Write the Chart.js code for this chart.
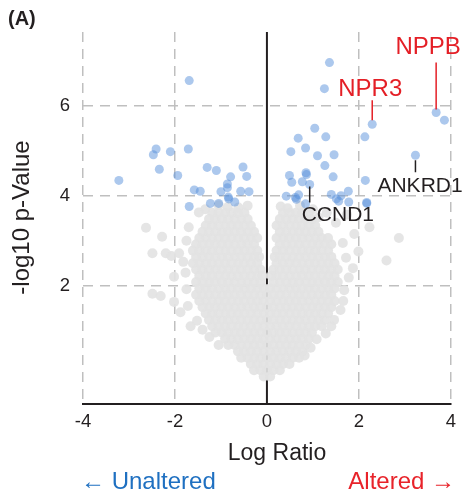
<!DOCTYPE html>
<html>
<head>
<meta charset="utf-8">
<script src="https://cdn.jsdelivr.net/npm/chart.js@4.4.1/dist/chart.umd.min.js"></script>
<style>
  html, body { margin: 0; padding: 0; background: #fff; }
  #wrap { width: 463px; height: 498px; }
</style>
</head>
<body>
<div id="wrap"><canvas id="chart" width="463" height="498"></canvas></div>
<script>
// significant genes (blue), [log ratio, -log10 p]
var sigLeft = [
  [-1.69, 6.56], [-2.41, 5.04], [-2.47, 4.91], [-2.10, 4.98], [-1.71, 5.04], [-2.34, 4.59],
  [-1.94, 4.45], [-3.22, 4.34], [-1.30, 4.63], [-1.10, 4.56], [-0.52, 4.64], [-0.44, 4.43],
  [-0.79, 4.42], [-0.86, 4.26], [-0.86, 4.18], [-1.58, 4.13], [-1.45, 4.10], [-1.00, 4.09],
  [-0.57, 4.10], [-0.39, 4.09], [-0.84, 3.97], [-0.83, 3.93], [-1.23, 3.83], [-1.05, 3.83],
  [-0.70, 3.86], [-1.69, 3.76]
];
var sigRight = [
  [1.36, 6.96], [1.25, 6.38], [3.68, 5.85], [3.86, 5.68], [2.29, 5.59], [2.13, 5.31],
  [1.04, 5.50], [0.68, 5.28], [1.28, 5.31], [0.84, 5.06], [0.52, 4.98], [1.10, 4.89],
  [1.46, 4.91], [1.26, 4.67], [3.23, 4.90], [1.44, 4.42], [0.49, 4.45], [0.85, 4.51],
  [0.86, 4.47], [0.54, 4.30], [0.77, 4.31], [0.93, 4.25], [2.14, 4.34], [0.42, 3.99],
  [0.62, 3.96], [0.69, 4.02], [0.64, 3.92], [0.84, 3.82], [1.40, 4.03], [1.61, 4.00],
  [1.77, 4.10], [1.51, 3.93], [1.56, 3.88], [1.78, 3.86], [2.17, 3.83], [2.17, 3.85]
];

// non-significant cloud, read row by row (y level -> x positions)
var grayRowY = [-0.02, 0.12, 0.26, 0.40, 0.54, 0.68, 0.82, 0.96, 1.10, 1.24, 1.38, 1.52, 1.66,
  1.80, 1.94, 2.08, 2.22, 2.36, 2.50, 2.64, 2.78, 2.92, 3.06, 3.20, 3.34, 3.48, 3.62];
var grayRowX = [
  [-0.07, 0.07],
  [-0.28, -0.14, 0, 0.14, 0.28],
  [-0.35, -0.21, -0.07, 0.07, 0.21, 0.35, 0.49],
  [-0.56, -0.42, -0.28, -0.14, 0, 0.14, 0.28, 0.42, 0.56, 0.70],
  [-0.63, -0.49, -0.35, -0.21, -0.07, 0.07, 0.21, 0.35, 0.49, 0.63, 0.77],
  [-0.84, -0.70, -0.56, -0.42, -0.28, -0.14, 0, 0.14, 0.28, 0.42, 0.56, 0.70, 0.84],
  [-0.91, -0.77, -0.63, -0.49, -0.35, -0.21, -0.07, 0.07, 0.21, 0.35, 0.49, 0.63, 0.77, 0.91],
  [-1.12, -0.98, -0.84, -0.70, -0.56, -0.42, -0.28, -0.14, 0, 0.14, 0.28, 0.42, 0.56, 0.70, 0.84, 0.98],
  [-1.19, -1.05, -0.91, -0.77, -0.63, -0.49, -0.35, -0.21, -0.07, 0.07, 0.21, 0.35, 0.49, 0.63, 0.77, 0.91, 1.05, 1.19],
  [-1.26, -1.12, -0.98, -0.84, -0.70, -0.56, -0.42, -0.28, -0.14, 0, 0.14, 0.28, 0.42, 0.56, 0.70, 0.84, 0.98, 1.12, 1.26],
  [-1.33, -1.19, -1.05, -0.91, -0.77, -0.63, -0.49, -0.35, -0.21, -0.07, 0.07, 0.21, 0.35, 0.49, 0.63, 0.77, 0.91, 1.05, 1.19, 1.33],
  [-1.40, -1.26, -1.12, -0.98, -0.84, -0.70, -0.56, -0.42, -0.28, -0.14, 0, 0.14, 0.28, 0.42, 0.56, 0.70, 0.84, 0.98, 1.12, 1.26, 1.40],
  [-1.47, -1.33, -1.19, -1.05, -0.91, -0.77, -0.63, -0.49, -0.35, -0.21, -0.07, 0.07, 0.21, 0.35, 0.49, 0.63, 0.77, 0.91, 1.05, 1.19, 1.33, 1.47],
  [-1.54, -1.40, -1.26, -1.12, -0.98, -0.84, -0.70, -0.56, -0.42, -0.28, -0.14, 0, 0.14, 0.28, 0.42, 0.56, 0.70, 0.84, 0.98, 1.12, 1.26, 1.40],
  [-1.47, -1.33, -1.19, -1.05, -0.91, -0.77, -0.63, -0.49, -0.35, -0.21, -0.07, 0.07, 0.21, 0.35, 0.49, 0.63, 0.77, 0.91, 1.05, 1.19, 1.33, 1.47],
  [-1.54, -1.40, -1.26, -1.12, -0.98, -0.84, -0.70, -0.56, -0.42, -0.28, -0.14, 0.14, 0.28, 0.42, 0.56, 0.70, 0.84, 0.98, 1.12, 1.26, 1.40, 1.54],
  [-1.47, -1.33, -1.19, -1.05, -0.91, -0.77, -0.63, -0.49, -0.35, -0.21, -0.10, 0.10, 0.21, 0.35, 0.49, 0.63, 0.77, 0.91, 1.05, 1.19, 1.33, 1.47],
  [-1.54, -1.40, -1.26, -1.12, -0.98, -0.84, -0.70, -0.56, -0.42, -0.28, -0.14, 0.14, 0.28, 0.42, 0.56, 0.70, 0.84, 0.98, 1.12, 1.26, 1.40, 1.54],
  [-1.61, -1.47, -1.33, -1.19, -1.05, -0.91, -0.77, -0.63, -0.49, -0.35, -0.21, 0.21, 0.35, 0.49, 0.63, 0.77, 0.91, 1.05, 1.19, 1.33, 1.47],
  [-1.54, -1.40, -1.26, -1.12, -0.98, -0.84, -0.70, -0.56, -0.42, -0.28, -0.17, 0.17, 0.28, 0.42, 0.56, 0.70, 0.84, 0.98, 1.12, 1.26, 1.40],
  [-1.61, -1.47, -1.33, -1.19, -1.05, -0.91, -0.77, -0.63, -0.49, -0.35, -0.21, 0.21, 0.35, 0.49, 0.63, 0.77, 0.91, 1.05, 1.19, 1.33],
  [-1.54, -1.40, -1.26, -1.12, -0.98, -0.84, -0.70, -0.56, -0.42, -0.28, 0.28, 0.42, 0.56, 0.70, 0.84, 0.98, 1.12, 1.26, 1.40],
  [-1.47, -1.33, -1.19, -1.05, -0.91, -0.77, -0.63, -0.49, -0.35, -0.21, 0.21, 0.35, 0.49, 0.63, 0.77, 0.91, 1.05, 1.19, 1.33],
  [-1.40, -1.26, -1.12, -0.98, -0.84, -0.70, -0.56, -0.42, -0.28, 0.28, 0.42, 0.56, 0.70, 0.84, 0.98, 1.12],
  [-1.33, -1.19, -1.05, -0.91, -0.77, -0.63, -0.49, -0.35, 0.21, 0.35, 0.49, 0.63, 0.77, 0.91, 1.05],
  [-1.26, -1.12, -0.98, -0.84, -0.70, -0.56, -0.42, 0.28, 0.42, 0.56, 0.70, 0.84, 0.98],
  [-1.19, -1.05, -0.91, -0.77, -0.63, -0.49, 0.35, 0.49, 0.63, 0.77, 0.91]
];
// scattered grey points outside the dense cloud
var grayOutliers = [
  [-2.63, 3.29], [-2.28, 3.09], [-2.49, 2.72], [-2.20, 2.72], [-2.08, 2.66], [-1.91, 2.72],
  [-2.49, 1.82], [-2.31, 1.77], [-2.02, 1.64], [-1.88, 1.41], [-1.66, 1.10], [-1.77, 2.29],
  [-2.02, 2.20], [-1.82, 2.53], [-1.75, 3.00], [-1.70, 3.30], [-1.48, 3.63], [-1.34, 3.70],
  [-1.05, 3.79], [-0.85, 3.75], [-0.62, 3.74], [-0.42, 3.78], [-1.75, 1.92], [-1.72, 1.55],
  [-1.52, 1.22], [-1.40, 1.02], [-1.25, 0.86], [-1.05, 0.68],
  [2.87, 3.06], [2.60, 2.56], [2.23, 3.30], [1.99, 2.76], [1.87, 2.39], [1.78, 2.18],
  [1.60, 1.46], [1.46, 1.24], [1.28, 0.94], [1.08, 0.81], [1.74, 3.58], [1.50, 3.40],
  [1.30, 3.62], [1.90, 3.15], [1.65, 2.95], [1.72, 2.62], [1.68, 1.90], [1.66, 1.66],
  [1.40, 1.10], [0.30, 3.76], [0.45, 3.72], [0.72, 3.78], [1.00, 3.70], [1.12, 3.52],
  [0.95, 0.62], [0.82, 0.45]
];

// labelled genes
var geneNames = ["NPPB", "NPR3", "ANKRD1", "CCND1"];
var geneX = [3.68, 2.29, 3.23, 0.93];
var geneY = [5.85, 5.59, 4.90, 4.25];

var xTicks = [-4, -2, 0, 2, 4];
var yTicks = [2, 4, 6];

var FONT = "'Liberation Sans', Arial, sans-serif";
var INK = "#231f20";
var RED = "#e41f26";

// label styling, same order as geneNames
var geneStyle = [
  {color: RED, size: 24, align: "center", dx: -8, dy: -59, l1: -3, l2: -50},
  {color: RED, size: 24, align: "center", dx: -2, dy: -28, l1: -4, l2: -24},
  {color: INK, size: 21, align: "left", dx: -38, dy: 37, l1: 5, l2: 17},
  {color: INK, size: 21, align: "left", dx: -8, dy: 37, l1: 2, l2: 18}
];

function toPts(arr) {
  return arr.map(function (p) { return {x: p[0], y: p[1]}; });
}

var grayPts = [];
grayRowY.forEach(function (yv, i) {
  grayRowX[i].forEach(function (xv) { grayPts.push({x: xv, y: yv}); });
});
grayPts = grayPts.concat(toPts(grayOutliers));

var sigPts = toPts(sigLeft).concat(toPts(sigRight));

var decor = {
  id: "decor",
  beforeDatasetsDraw: function (chart) {
    var ctx = chart.ctx, x = chart.scales.x;
    var px = x.getPixelForValue(0);
    ctx.save();
    ctx.strokeStyle = INK;
    ctx.lineWidth = 2;
    ctx.beginPath();
    ctx.moveTo(px, chart.chartArea.top);
    ctx.lineTo(px, chart.chartArea.bottom);
    ctx.stroke();
    ctx.restore();
  },
  afterDatasetsDraw: function (chart) {
    var ctx = chart.ctx, x = chart.scales.x, y = chart.scales.y;
    ctx.save();
    geneNames.forEach(function (name, i) {
      var s = geneStyle[i];
      var px = x.getPixelForValue(geneX[i]);
      var py = y.getPixelForValue(geneY[i]);
      ctx.strokeStyle = s.color;
      ctx.lineWidth = 1.5;
      ctx.beginPath();
      ctx.moveTo(px, py + s.l1);
      ctx.lineTo(px, py + s.l2);
      ctx.stroke();
      ctx.fillStyle = s.color;
      ctx.font = s.size + "px " + FONT;
      ctx.textAlign = s.align;
      ctx.textBaseline = "alphabetic";
      ctx.fillText(name, px + s.dx, py + s.dy);
    });
    ctx.restore();
  },
  afterDraw: function (chart) {
    var ctx = chart.ctx;
    ctx.save();
    ctx.textBaseline = "alphabetic";
    ctx.fillStyle = INK;
    ctx.font = "bold 20px " + FONT;
    ctx.textAlign = "left";
    ctx.fillText("(A)", 8, 25);

    ctx.font = "23px " + FONT;
    ctx.textAlign = "center";
    ctx.fillText("Log Ratio", 277, 460);

    ctx.font = "24px " + FONT;
    ctx.fillStyle = "#1f70c1";
    ctx.textAlign = "left";
    ctx.fillText("\u2190 Unaltered", 81, 489);
    ctx.fillStyle = "#e8232a";
    ctx.textAlign = "right";
    ctx.fillText("Altered \u2192", 455, 489);

    ctx.translate(28.5, 217.5);
    ctx.rotate(-Math.PI / 2);
    ctx.fillStyle = INK;
    ctx.textAlign = "center";
    ctx.fillText("-log10 p-Value", 0, 0);
    ctx.restore();
  }
};

var ctx = document.getElementById("chart").getContext("2d");
var chart = new Chart(ctx, {
  type: "scatter",
  data: {
    datasets: [
      {
        data: sigPts,
        backgroundColor: "rgba(90,145,220,0.5)",
        borderWidth: 0,
        pointRadius: 4.5,
        order: 0
      },
      {
        data: grayPts,
        backgroundColor: "rgba(227,227,227,0.92)",
        borderWidth: 0,
        pointRadius: 5,
        order: 1
      }
    ]
  },
  options: {
    responsive: false,
    devicePixelRatio: 1,
    animation: false,
    events: [],
    layout: { padding: { top: 32, right: 8, left: 0, bottom: 0 } },
    plugins: { legend: { display: false }, tooltip: { enabled: false } },
    scales: {
      x: {
        type: "linear",
        min: -4,
        max: 4,
        afterBuildTicks: function (s) { s.ticks = xTicks.map(function (v) { return {value: v}; }); },
        afterFit: function (s) { s.height = 94; },
        grid: {
          color: function (c) { return c.tick && c.tick.value === 0 ? "rgba(0,0,0,0)" : "#bfbfbf"; },
          lineWidth: 1.5,
          drawTicks: false
        },
        border: { display: true, color: INK, width: 2, dash: [10, 7] },
        ticks: { padding: 7, color: INK, font: { family: FONT, size: 18.5 } }
      },
      y: {
        type: "linear",
        min: -0.63,
        max: 7.64,
        afterBuildTicks: function (s) { s.ticks = yTicks.map(function (v) { return {value: v}; }); },
        afterFit: function (s) { s.width = 83; },
        grid: { color: "#bfbfbf", lineWidth: 1.5, drawTicks: false },
        border: { display: false, dash: [10, 7] },
        ticks: { padding: 13, color: INK, font: { family: FONT, size: 18.5 } }
      }
    }
  },
  plugins: [decor]
});
</script>
</body>
</html>
